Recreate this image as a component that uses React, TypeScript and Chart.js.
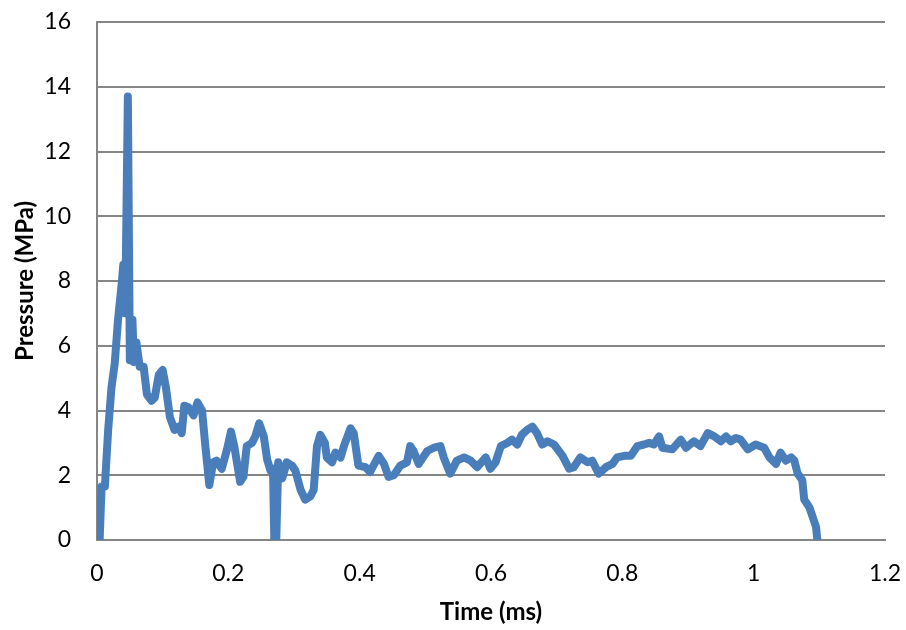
import React, { useEffect, useRef } from "react";
import { Chart, registerables } from "chart.js";

Chart.register(...registerables);

const timeMs: number[] = [
  0.004, 0.007, 0.012, 0.017, 0.022, 0.027, 0.032, 0.038, 0.040, 0.043,
  0.047, 0.050, 0.054, 0.056, 0.060, 0.065, 0.071, 0.076, 0.083, 0.088,
  0.094, 0.100, 0.105, 0.111, 0.118, 0.124, 0.129, 0.133, 0.139, 0.147,
  0.153, 0.160, 0.165, 0.171, 0.177, 0.182, 0.190, 0.198, 0.204, 0.209,
  0.218, 0.223, 0.228, 0.236, 0.241, 0.247, 0.254, 0.259, 0.264, 0.268,
  0.270, 0.273, 0.276, 0.282, 0.289, 0.297, 0.302, 0.310, 0.317, 0.325,
  0.330, 0.335, 0.340, 0.347, 0.350, 0.358, 0.363, 0.371, 0.376, 0.386,
  0.391, 0.398, 0.409, 0.416, 0.421, 0.429, 0.437, 0.444, 0.452, 0.462,
  0.472, 0.477, 0.482, 0.490, 0.503, 0.513, 0.523, 0.528, 0.538, 0.548,
  0.559, 0.569, 0.579, 0.592, 0.599, 0.607, 0.615, 0.625, 0.632, 0.640,
  0.647, 0.655, 0.663, 0.670, 0.678, 0.686, 0.696, 0.709, 0.719, 0.726,
  0.736, 0.747, 0.754, 0.764, 0.775, 0.785, 0.792, 0.803, 0.813, 0.823,
  0.833, 0.841, 0.848, 0.856, 0.861, 0.876, 0.889, 0.897, 0.909, 0.919,
  0.930, 0.940, 0.950, 0.958, 0.965, 0.973, 0.980, 0.991, 1.003, 1.016,
  1.024, 1.034, 1.041, 1.049, 1.057, 1.062, 1.067, 1.074, 1.077, 1.085,
  1.090, 1.095, 1.097,
];

const pressureMPa: number[] = [
  0, 1.65, 1.65, 3.4, 4.7, 5.45, 6.8, 8.0, 8.5, 7.0,
  13.7, 5.55, 6.8, 5.5, 6.1, 5.35, 5.35, 4.5, 4.3, 4.4,
  5.1, 5.25, 4.7, 3.8, 3.4, 3.5, 3.3, 4.15, 4.1, 3.85,
  4.25, 4.0, 2.9, 1.7, 2.4, 2.45, 2.2, 2.8, 3.35, 2.9,
  1.8, 1.95, 2.9, 3.0, 3.2, 3.6, 3.2, 2.5, 2.15, 2.2,
  0, 0, 2.4, 1.9, 2.4, 2.3, 2.15, 1.55, 1.25, 1.35,
  1.55, 2.9, 3.25, 3.0, 2.55, 2.4, 2.7, 2.55, 2.9, 3.45,
  3.3, 2.3, 2.25, 2.1, 2.3, 2.6, 2.35, 1.95, 2.0, 2.3,
  2.4, 2.9, 2.75, 2.35, 2.75, 2.85, 2.9, 2.55, 2.05, 2.45,
  2.55, 2.45, 2.25, 2.55, 2.2, 2.4, 2.9, 3.0, 3.1, 2.95,
  3.25, 3.4, 3.5, 3.3, 2.95, 3.05, 2.95, 2.6, 2.2, 2.25,
  2.55, 2.4, 2.45, 2.05, 2.25, 2.35, 2.55, 2.6, 2.6, 2.9,
  2.95, 3.0, 2.95, 3.2, 2.85, 2.8, 3.1, 2.85, 3.05, 2.9,
  3.3, 3.2, 3.05, 3.2, 3.05, 3.15, 3.1, 2.8, 2.95, 2.85,
  2.55, 2.35, 2.7, 2.45, 2.55, 2.45, 2.05, 1.85, 1.25, 1.0,
  0.7, 0.4, 0,
];

const xTitle = "Time (ms)";
const yTitle = "Pressure (MPa)";

const FONT = "Lato, 'Open Sans', sans-serif";
const GRID = "rgb(134,134,134)";
const LINE = "rgb(74,126,187)";

export default function App() {
  const ref = useRef<HTMLCanvasElement | null>(null);

  useEffect(() => {
    if (!ref.current) return;
    const points = timeMs.map((t, i) => ({ x: t, y: pressureMPa[i] }));
    const chart = new Chart(ref.current, {
      type: "line",
      data: {
        datasets: [
          {
            data: points,
            borderColor: LINE,
            backgroundColor: LINE,
            borderWidth: 8,
            borderJoinStyle: "round",
            borderCapStyle: "round",
            pointRadius: 0,
            tension: 0,
            clip: 0,
          },
        ],
      },
      options: {
        responsive: false,
        animation: false,
        devicePixelRatio: 1,
        layout: { padding: { left: 0, right: 21, top: 22, bottom: 0 } },
        plugins: { legend: { display: false }, tooltip: { enabled: false } },
        scales: {
          x: {
            type: "linear",
            min: 0,
            max: 1.2,
            ticks: {
              stepSize: 0.2,
              color: "#000",
              font: { family: FONT, size: 23 },
              padding: 20,
              maxRotation: 0,
              callback: (v: any) => String(Math.round(Number(v) * 10) / 10),
            },
            grid: { display: false, drawTicks: false },
            border: { display: true, color: GRID, width: 2 },
            title: {
              display: true,
              text: xTitle,
              color: "#000",
              font: { family: FONT, size: 24, weight: "bold" },
              padding: { top: 0, bottom: 3 },
            },
            afterFit: (s: any) => {
              s.height = 90;
              s.paddingLeft = 0;
              s.paddingRight = 0;
            },
          },
          y: {
            min: 0,
            max: 16,
            ticks: {
              stepSize: 2,
              color: "#000",
              font: { family: FONT, size: 23 },
              padding: 26,
            },
            grid: { color: GRID, lineWidth: 2, drawTicks: false },
            border: { display: true, color: GRID, width: 2 },
            title: {
              display: true,
              text: yTitle,
              color: "#000",
              font: { family: FONT, size: 24, weight: "bold" },
              padding: { top: 11, bottom: 0 },
            },
            afterFit: (s: any) => {
              s.width = 97;
              s.paddingTop = 0;
              s.paddingBottom = 0;
            },
          },
        },
      },
    });
    return () => chart.destroy();
  }, []);

  return (
    <div style={{ position: "absolute", left: 0, top: 0, width: 906, height: 630, background: "#fff" }}>
      <canvas ref={ref} width={906} height={630} style={{ width: 906, height: 630 }} />
    </div>
  );
}
